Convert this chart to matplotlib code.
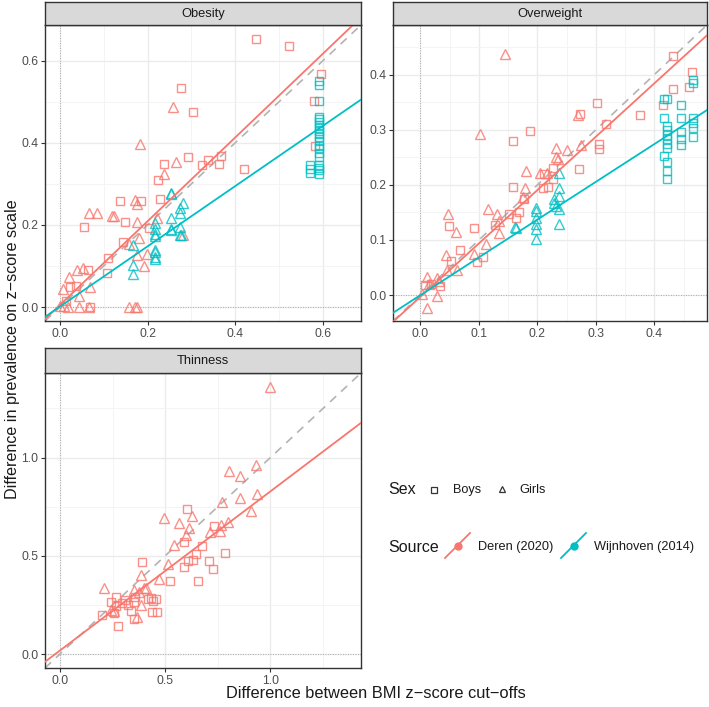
import numpy as np
import matplotlib
matplotlib.use("Agg")
import matplotlib.pyplot as plt
from matplotlib.lines import Line2D

plt.rcParams['font.family'] = ['Liberation Sans', 'DejaVu Sans']

RED = '#F8766D'
CYAN = '#00BFC4'

## ------------------------------ data ------------------------------------------------------

# Obesity
ob_deren_boys_x = [0.448, 0.522, 0.595, 0.579, 0.583, 0.276, 0.303, 0.292, 0.238, 0.325, 0.337, 0.363,
                   0.367, 0.421, 0.223, 0.228, 0.137, 0.185, 0.149, 0.204, 0.056, 0.143, 0.110, 0.107,
                   0.065, 0.036, 0.024, 0.014, 0.069]
ob_deren_boys_y = [0.653, 0.636, 0.567, 0.502, 0.392, 0.533, 0.476, 0.366, 0.349, 0.345, 0.357, 0.348,
                   0.368, 0.337, 0.310, 0.262, 0.259, 0.259, 0.208, 0.193, 0.195, 0.158, 0.120, 0.083,
                   0.090, 0.052, 0.048, 0.015, 0.001]
ob_deren_girls_x = [0.257, 0.183, 0.264, 0.238, 0.172, 0.177, 0.067, 0.085, 0.123, 0.120, 0.177, 0.222,
                    0.180, 0.282, 0.157, 0.175, 0.199, 0.192, 0.053, 0.039, 0.021, 0.006, 0.069, 0.043,
                    0.000, 0.019, 0.044, 0.067, 0.158, 0.175, 0.171, 0.010]
ob_deren_girls_y = [0.487, 0.398, 0.353, 0.323, 0.260, 0.250, 0.229, 0.229, 0.221, 0.221, 0.207, 0.216,
                    0.169, 0.175, 0.153, 0.126, 0.129, 0.101, 0.094, 0.090, 0.072, 0.045, 0.048, 0.028,
                    0.003, 0.001, 0.001, 0.001, 0.001, 0.001, 0.000, 0.002]
ob_wijn_boys_x = [0.592] * 20 + [0.570] * 3
ob_wijn_boys_y = [0.550, 0.541, 0.502, 0.464, 0.457, 0.450, 0.443, 0.437, 0.429, 0.421, 0.413, 0.405,
                  0.393, 0.387, 0.374, 0.366, 0.345, 0.339, 0.333, 0.325, 0.345, 0.337, 0.327]
ob_wijn_girls_x = [0.253, 0.253, 0.280, 0.275, 0.275, 0.253, 0.216, 0.218, 0.216, 0.218, 0.275, 0.253,
                   0.253, 0.274, 0.276, 0.166, 0.216, 0.216, 0.216, 0.216, 0.166, 0.166]
ob_wijn_girls_y = [0.278, 0.275, 0.254, 0.242, 0.228, 0.216, 0.205, 0.191, 0.179, 0.174, 0.195, 0.190,
                   0.187, 0.175, 0.175, 0.152, 0.140, 0.135, 0.122, 0.118, 0.102, 0.080]

# Overweight
ow_deren_boys_x = [0.432, 0.464, 0.459, 0.432, 0.414, 0.375, 0.302, 0.272, 0.318, 0.306, 0.305, 0.271,
                   0.187, 0.159, 0.159, 0.177, 0.209, 0.218, 0.226, 0.227, 0.212, 0.169, 0.163, 0.152,
                   0.127, 0.091, 0.049, 0.068, 0.052, 0.096, 0.107, 0.008, 0.018, 0.033]
ow_deren_boys_y = [0.433, 0.404, 0.377, 0.373, 0.344, 0.327, 0.349, 0.329, 0.310, 0.275, 0.265, 0.229,
                   0.297, 0.280, 0.196, 0.174, 0.194, 0.197, 0.231, 0.211, 0.220, 0.150, 0.140, 0.148,
                   0.128, 0.122, 0.125, 0.081, 0.062, 0.060, 0.070, 0.019, 0.020, 0.017]
ow_deren_girls_x = [0.145, 0.101, 0.269, 0.275, 0.250, 0.232, 0.232, 0.236, 0.180, 0.205, 0.217, 0.179,
                    0.176, 0.116, 0.131, 0.135, 0.135, 0.112, 0.060, 0.047, 0.092, 0.044, 0.062, 0.046,
                    0.012, 0.028, 0.031, 0.003, 0.029, 0.011, 0.015]
ow_deren_girls_y = [0.437, 0.292, 0.326, 0.272, 0.263, 0.266, 0.251, 0.247, 0.225, 0.222, 0.222, 0.194,
                    0.178, 0.156, 0.148, 0.135, 0.112, 0.093, 0.114, 0.147, 0.075, 0.072, 0.045, 0.045,
                    0.032, 0.031, 0.025, 0.002, -0.002, -0.023, 0.020]
ow_wijn_boys_x = [0.416] * 3 + [0.421] * 10 + [0.446] * 5 + [0.466] * 6
ow_wijn_boys_y = [0.356, 0.322, 0.252,
                  0.356, 0.307, 0.300, 0.290, 0.283, 0.275, 0.267, 0.241, 0.225, 0.211,
                  0.345, 0.322, 0.295, 0.283, 0.272,
                  0.391, 0.384, 0.321, 0.313, 0.304, 0.286]
ow_wijn_girls_x = [0.161, 0.163, 0.198, 0.198, 0.198, 0.198, 0.198, 0.198, 0.237, 0.237, 0.237, 0.228,
                   0.228, 0.232, 0.237, 0.237]
ow_wijn_girls_y = [0.124, 0.122, 0.158, 0.153, 0.139, 0.129, 0.120, 0.101, 0.222, 0.195, 0.179, 0.175,
                   0.167, 0.161, 0.156, 0.129]

# Thinness (Deren only)
th_deren_boys_x = [0.603, 0.732, 0.589, 0.677, 0.786, 0.644, 0.607, 0.630, 0.707, 0.388, 0.589, 0.726,
                   0.524, 0.655, 0.264, 0.241, 0.310, 0.296, 0.266, 0.321, 0.356, 0.419, 0.432, 0.456,
                   0.443, 0.339, 0.255, 0.202, 0.438, 0.462, 0.354, 0.274, 0.353]
th_deren_boys_y = [0.736, 0.651, 0.572, 0.551, 0.516, 0.511, 0.474, 0.476, 0.471, 0.469, 0.442, 0.435,
                   0.371, 0.371, 0.291, 0.267, 0.277, 0.262, 0.247, 0.252, 0.291, 0.281, 0.284, 0.281,
                   0.269, 0.220, 0.207, 0.197, 0.215, 0.213, 0.180, 0.143, 0.266]
th_deren_girls_x = [1.000, 0.929, 0.805, 0.856, 0.935, 0.856, 0.772, 0.908, 0.492, 0.625, 0.565, 0.614,
                    0.796, 0.767, 0.715, 0.759, 0.601, 0.544, 0.514, 0.383, 0.471, 0.210, 0.354, 0.399,
                    0.411, 0.377, 0.384, 0.364, 0.259, 0.242]
th_deren_girls_y = [1.358, 0.963, 0.931, 0.908, 0.814, 0.795, 0.773, 0.728, 0.694, 0.703, 0.667, 0.639,
                    0.672, 0.656, 0.622, 0.627, 0.605, 0.555, 0.459, 0.403, 0.382, 0.335, 0.328, 0.338,
                    0.336, 0.316, 0.250, 0.190, 0.217, 0.224]

# fitted lines (intercept, slope)
ob_fit = {'Deren': (0.005, 1.02), 'Wijnhoven': (0.001, 0.734)}
ow_fit = {'Deren': (-0.003, 0.968), 'Wijnhoven': (0.0, 0.685)}
th_fit = {'Deren': (0.018, 0.81)}

## ------------------------------ drawing -----------------------------------

W, H = 709, 707
fig = plt.figure(figsize=(W / 100, H / 100), dpi=100)


def px_axes(x0, y0, x1, y1):
    return fig.add_axes([x0 / W, 1 - y1 / H, (x1 - x0) / W, (y1 - y0) / H])


def panel(rect, strip, title, lim, major, minor, points, fits):
    ax = px_axes(*rect)
    ax.set_xlim(lim)
    ax.set_ylim(lim)
    ax.set_xticks(major)
    ax.set_yticks(major)
    ax.set_xticks(minor, minor=True)
    ax.set_yticks(minor, minor=True)
    ax.set_xticklabels([f'{v:.1f}' for v in major])
    ax.set_yticklabels([f'{v:.1f}' for v in major])
    ax.grid(which='major', color='#EBEBEB', lw=1.0)
    ax.grid(which='minor', color='#F3F3F3', lw=0.6)
    ax.set_axisbelow(True)
    ax.tick_params(which='major', length=3.0, width=0.8, color='#333333',
                   labelsize=8.8, labelcolor='#4D4D4D', pad=1.8)
    ax.tick_params(which='minor', length=0)
    for s in ax.spines.values():
        s.set_color('#333333')
        s.set_linewidth(1.0)

    ax.axhline(0, color='#999999', ls=(0, (1, 2)), lw=0.6, zorder=1)
    ax.axvline(0, color='#999999', ls=(0, (1, 2)), lw=0.6, zorder=1)
    ax.axline((0, 0), slope=1, color='#B3B3B3', ls=(0, (5, 4)), lw=1.2, zorder=2)

    for xs, ys, col, mk in points:
        ax.plot(xs, ys, ls='none', marker=mk, ms=6.5 if mk == '^' else 5.8,
                mfc='none', mec=col, mew=1.0, alpha=0.8, zorder=3)
    for name, (b0, b1) in fits.items():
        ax.axline((0, b0), slope=b1, color=RED if name == 'Deren' else CYAN, lw=1.3, zorder=4)

    sax = px_axes(rect[0], strip[0], rect[2], strip[1])
    sax.set_facecolor('#D9D9D9')
    sax.set_xticks([])
    sax.set_yticks([])
    for s in sax.spines.values():
        s.set_color('#333333')
        s.set_linewidth(1.0)
    sax.text(0.5, 0.5, title, ha='center', va='center', fontsize=9.3, color='#1A1A1A',
             transform=sax.transAxes)
    return ax


panel((45, 25, 361, 321), (2, 25), 'Obesity', (-0.034, 0.687),
      [0.0, 0.2, 0.4, 0.6], [0.1, 0.3, 0.5],
      [(ob_deren_boys_x, ob_deren_boys_y, RED, 's'),
       (ob_deren_girls_x, ob_deren_girls_y, RED, '^'),
       (ob_wijn_boys_x, ob_wijn_boys_y, CYAN, 's'),
       (ob_wijn_girls_x, ob_wijn_girls_y, CYAN, '^')], ob_fit)

panel((393, 25, 707, 321), (2, 25), 'Overweight', (-0.047, 0.49),
      [0.0, 0.1, 0.2, 0.3, 0.4], [0.05, 0.15, 0.25, 0.35, 0.45],
      [(ow_deren_boys_x, ow_deren_boys_y, RED, 's'),
       (ow_deren_girls_x, ow_deren_girls_y, RED, '^'),
       (ow_wijn_boys_x, ow_wijn_boys_y, CYAN, 's'),
       (ow_wijn_girls_x, ow_wijn_girls_y, CYAN, '^')], ow_fit)

panel((45, 373, 361, 668), (348, 373), 'Thinness', (-0.071, 1.43),
      [0.0, 0.5, 1.0], [0.25, 0.75, 1.25],
      [(th_deren_boys_x, th_deren_boys_y, RED, 's'),
       (th_deren_girls_x, th_deren_girls_y, RED, '^')], th_fit)

# axis titles
fig.text(376 / W, 1 - 694 / H, 'Difference between BMI z\u2212score cut\u2212offs',
         ha='center', va='center', fontsize=11.8, color='#1A1A1A')
fig.text(13 / W, 1 - 349 / H, 'Difference in prevalence on z\u2212score scale',
         ha='center', va='center', rotation=90, fontsize=11.6, color='#1A1A1A')

# legend drawn by hand in a blank axes
lax = px_axes(370, 470, 709, 580)
lax.set_xlim(370, 709)
lax.set_ylim(580, 470)
lax.axis('off')
lax.text(388, 490, 'Sex', fontsize=11.5, va='center', color='#1A1A1A')
lax.plot([434], [489.5], marker='s', ms=4.0, mfc='none', mec='#333333', mew=0.9)
lax.text(453, 490, 'Boys', fontsize=9.2, va='center', color='#1A1A1A')
lax.plot([502], [489], marker='^', ms=4.6, mfc='none', mec='#333333', mew=0.9)
lax.text(519, 490, 'Girls', fontsize=9.2, va='center', color='#1A1A1A')

lax.text(388, 547, 'Source', fontsize=11.5, va='center', color='#1A1A1A')
for x0, col, lab in [(445, RED, 'Deren (2020)'), (561, CYAN, 'Wijnhoven (2014)')]:
    lax.add_line(Line2D([x0, x0 + 25], [558, 533], color=col, lw=1.3))
    lax.plot([x0 + 12.5], [545.5], marker='o', ms=5, color=col)
    lax.text(x0 + 33, 547, lab, fontsize=9.2, va='center', color='#1A1A1A')

fig.savefig('out.png', dpi=100)
